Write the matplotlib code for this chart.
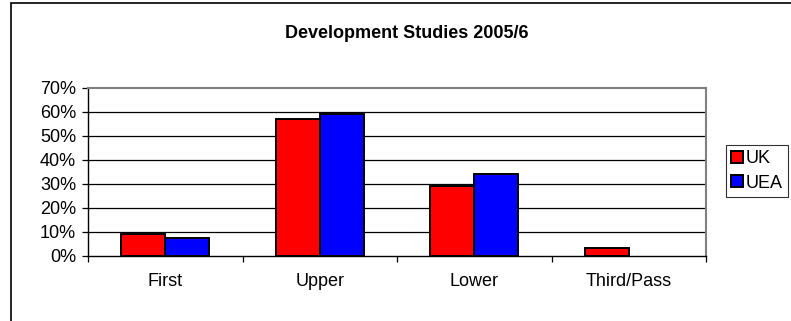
import matplotlib
matplotlib.use("Agg")
import matplotlib.pyplot as plt
import numpy as np
from matplotlib.patches import Rectangle

categories = ["First", "Upper", "Lower", "Third/Pass"]
uk = [9.3, 57.2, 29.2, 3.5]
uea = [7.3, 59.2, 34.0, 0.0]
yticks = [0, 10, 20, 30, 40, 50, 60, 70]

plt.rcParams['font.family'] = ['Liberation Sans', 'DejaVu Sans']
FS = 13

W, H = 791, 321
fig = plt.figure(figsize=(W / 100, H / 100), dpi=100)
ax = fig.add_axes([88 / W, 1 - 256 / H, (706 - 88) / W, (256 - 88) / H])

# outer chart border
fig.add_artist(Rectangle((10.5 / W, -0.1), 1.2, 1 - 2.5 / H + 0.1, transform=fig.transFigure,
                         fill=False, edgecolor='black', linewidth=1.2))

n = len(categories)
x = np.arange(n)
bw = 1 / 3.5
b1 = ax.bar(x - bw / 2, uk, bw, color='#ff0000', edgecolor='black', linewidth=1.4, label='UK', zorder=3)
b2 = ax.bar(x + bw / 2, uea, bw, color='#0000ff', edgecolor='black', linewidth=1.4, label='UEA', zorder=3)
for bars in (b1, b2):
    for r in bars:
        if r.get_height() == 0:
            r.set_visible(False)

ax.set_xlim(-0.5, n - 0.5)
ax.set_ylim(0, 70)
ax.set_yticks(yticks)
ax.set_yticklabels([f"{v}%" for v in yticks], fontsize=FS)
for v in yticks[1:-1]:
    ax.axhline(v, color='black', linewidth=0.9, zorder=1)

ax.set_xticks(np.arange(n + 1) - 0.5)
ax.set_xticklabels([])
ax.set_xticks(x, minor=True)
ax.set_xticklabels(categories, minor=True, fontsize=FS)
ax.tick_params(axis='x', which='minor', length=0, pad=12)
ax.tick_params(axis='x', which='major', length=4, direction='out', width=0.9)
ax.tick_params(axis='y', length=4.5, direction='out', width=0.9, pad=4)

ax.spines['left'].set_color('black')
ax.spines['bottom'].set_color('black')
ax.spines['top'].set_color('#808080')
ax.spines['right'].set_color('#808080')
for s in ax.spines.values():
    s.set_linewidth(1.0)
ax.spines['top'].set_linewidth(1.5)
ax.spines['right'].set_linewidth(1.5)

fig.text(407 / W, 1 - 33 / H, "Development Studies 2005/6", ha='center', va='center',
         fontsize=FS, fontweight='bold')

leg = fig.legend(loc='center', bbox_to_anchor=(757 / W, 1 - 171 / H), fontsize=FS,
                 frameon=True, fancybox=False, edgecolor='black', handlelength=0.65,
                 handleheight=0.65, handletextpad=0.15, borderpad=0.3, labelspacing=0.4,
                 borderaxespad=0)
leg.get_frame().set_linewidth(0.8)
for p in leg.get_patches():
    p.set_linewidth(1.4)

fig.savefig("out.png", dpi=100)
